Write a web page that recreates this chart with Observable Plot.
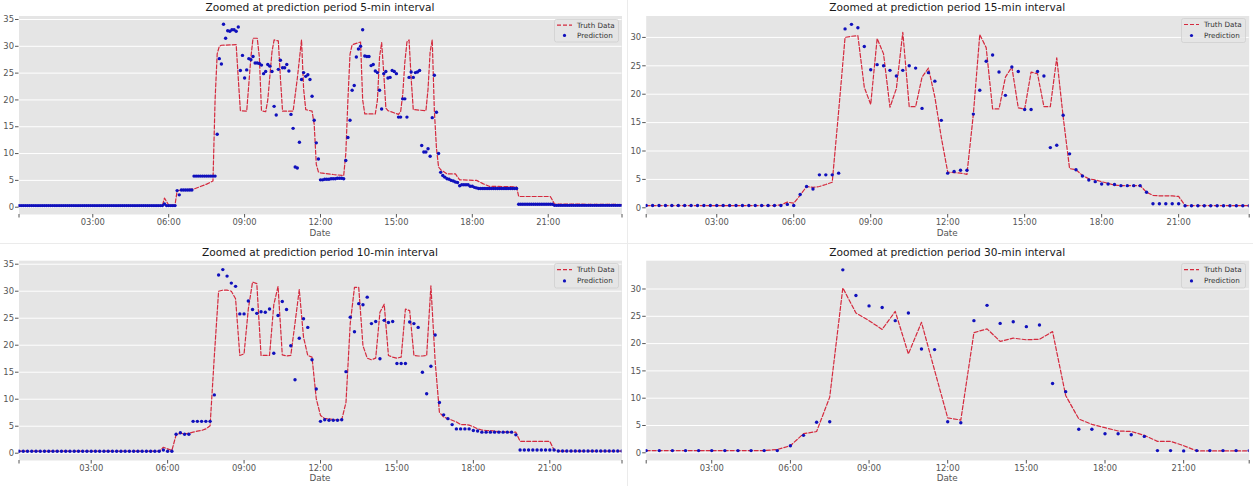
<!DOCTYPE html>
<html><head><meta charset="utf-8">
<script src="https://cdn.jsdelivr.net/npm/d3@7"></script>
<script src="https://cdn.jsdelivr.net/npm/@observablehq/plot@0.6"></script>
<style>
body{margin:0;background:#fff;font-family:"DejaVu Sans",sans-serif;}
#root{position:relative;width:1253px;height:486px;overflow:hidden;background:#fff;}
#root svg{position:absolute;}
.title{position:absolute;font-size:10.6px;color:#1a1a1a;white-space:nowrap;transform:translate(-50%,-50%);line-height:1;}
.xlab{position:absolute;font-size:8.8px;color:#555;white-space:nowrap;transform:translate(-50%,-50%);line-height:1;}
.sep{position:absolute;background:#ebebeb;}
</style></head>
<body><div id="root"></div>
<script>
// ---------- data ----------
const titles = ["Zoomed at prediction period 5-min interval","Zoomed at prediction period 15-min interval","Zoomed at prediction period 10-min interval","Zoomed at prediction period 30-min interval"];
const legendLabels = ["Truth Data","Prediction"];
const xTickHours = [3,6,9,12,15,18,21];
const yTicks35 = [0,5,10,15,20,25,30,35];
const yTicks30 = [0,5,10,15,20,25,30];

// 5-min interval: samples from 00:05 to 23:55
const pred5 = [
 0.3,0.3,0.3,0.3,0.3,0.3,0.3,0.3,0.3,0.3,
 0.3,0.3,0.3,0.3,0.3,0.3,0.3,0.3,0.3,0.3,
 0.3,0.3,0.3,0.3,0.3,0.3,0.3,0.3,0.3,0.3,
 0.3,0.3,0.3,0.3,0.3,0.3,0.3,0.3,0.3,0.3,
 0.3,0.3,0.3,0.3,0.3,0.3,0.3,0.3,0.3,0.3,
 0.3,0.3,0.3,0.3,0.3,0.3,0.3,0.3,0.3,0.3,
 0.3,0.3,0.3,0.3,0.3,0.3,0.3,0.3,0.3,0.6,
 0.3,0.3,0.3,0.3,0.3,3.1,2.3,3.2,3.2,3.2,
 3.2,3.2,3.2,5.8,5.8,5.8,5.8,5.8,5.8,5.8,
 5.8,5.8,5.8,5.8,13.6,27.7,26.7,34.1,31.5,32.9,
 32.8,33.1,33.1,32.8,33.6,25.5,28.3,24.1,25.6,27.7,
 27.5,28.1,26.9,26.9,26.8,26.5,24.9,25.3,26.6,26.3,
 25.3,18.8,17.2,25.7,27.4,26.0,26.0,26.6,25.4,17.3,
 14.7,7.5,7.3,12.1,23.8,25.1,24.4,24.7,23.8,20.7,
 16.2,12.0,9.0,5.1,5.1,5.2,5.2,5.2,5.3,5.3,
 5.3,5.4,5.4,5.4,5.3,8.7,13.0,16.2,21.8,22.7,
 28.0,29.5,30.0,33.1,28.2,28.1,28.1,26.4,26.6,25.4,
 25.1,21.8,18.3,24.9,25.3,24.1,24.2,25.5,25.3,24.9,
 16.8,16.8,20.2,20.2,16.8,24.2,25.2,24.2,25.1,25.2,
 25.5,11.5,10.3,10.3,10.9,9.5,16.7,24.6,17.7,10.0,
 6.5,5.9,5.6,5.3,5.2,5.0,4.9,4.7,4.6,4.0,
 4.2,4.2,4.2,4.2,3.9,3.9,3.7,3.6,3.5,3.5,
 3.5,3.5,3.5,3.5,3.5,3.5,3.5,3.5,3.5,3.5,
 3.5,3.5,3.5,3.5,3.5,3.5,3.5,0.55,0.55,0.55,
 0.55,0.55,0.55,0.55,0.55,0.55,0.55,0.55,0.55,0.55,
 0.55,0.55,0.55,0.55,0.35,0.35,0.35,0.35,0.35,0.35,
 0.35,0.35,0.35,0.35,0.35,0.35,0.35,0.35,0.35,0.35,
 0.35,0.35,0.35,0.35,0.35,0.35,0.35,0.35,0.35,0.35,
 0.35,0.35,0.35,0.35,0.35,0.35,0.35
];
const truth5Time = ["00:05","05:45","05:50","06:00","06:15","06:20","07:00","07:30","07:45","07:50","07:55","08:00","08:05","08:40","08:45","08:50","09:05","09:15","09:20","09:30","09:35","09:40","09:50","09:55","10:05","10:10","10:20","10:25","10:30","10:55","11:05","11:15","11:20","11:25","11:40","11:45","11:50","11:55","12:00","12:30","12:55","13:00","13:05","13:10","13:15","13:35","13:40","13:45","14:10","14:15","14:20","14:25","14:30","14:35","14:40","15:05","15:10","15:15","15:20","15:25","15:30","15:35","15:40","16:10","16:15","16:20","16:25","16:30","16:35","16:40","16:45","17:00","17:20","17:30","18:10","18:25","18:40","19:45","19:50","21:05","21:15","23:55"];
const truth5Value = [0.3,0.3,1.7,0.4,0.4,3.1,3.4,4.3,4.9,20.0,28.6,30.0,30.2,30.3,24.0,18.0,17.9,28.0,31.5,31.5,28.0,18.0,17.8,20.0,29.0,31.2,31.0,24.0,17.9,17.9,24.0,31.2,22.0,18.2,17.9,15.5,8.0,6.6,6.4,6.1,5.9,10.0,20.0,28.5,30.3,30.8,20.0,17.4,17.4,20.0,28.0,30.7,25.0,18.5,18.0,17.3,17.8,21.0,27.0,30.8,31.2,24.0,18.2,18.0,22.0,29.0,31.2,18.0,11.0,7.5,7.0,6.2,6.2,5.1,5.0,4.4,3.9,3.8,2.0,2.0,0.6,0.5];

// 15-min interval: samples from 00:15 to 23:45
const pred15 = [
 0.4,0.4,0.4,0.4,0.4,0.4,0.4,0.4,0.4,0.4,
 0.4,0.4,0.4,0.4,0.4,0.4,0.4,0.4,0.4,0.4,
 0.4,0.4,0.6,0.4,2.35,3.75,3.3,5.8,5.8,5.8,
 6.1,31.5,32.3,31.7,28.4,24.3,25.2,25.0,24.2,23.2,
 24.2,25.0,24.6,17.5,23.8,22.3,15.4,6.1,6.4,6.6,
 6.6,16.5,20.7,25.8,26.9,23.9,19.8,24.8,24.0,17.3,
 17.3,24.0,23.2,10.6,11.0,16.3,9.5,6.7,5.6,4.9,
 4.6,4.2,4.2,4.1,3.9,3.9,3.9,3.9,2.75,0.7,
 0.7,0.7,0.7,0.7,0.35,0.35,0.35,0.35,0.35,0.35,
 0.35,0.35,0.35,0.35,0.35
];
const truth15 = [
 0.4,0.4,0.4,0.4,0.4,0.4,0.4,0.4,0.4,0.4,
 0.4,0.4,0.4,0.4,0.4,0.4,0.4,0.4,0.4,0.4,
 0.4,0.5,1.0,0.8,2.2,3.75,3.6,3.75,4.1,4.5,
 17.0,30.0,30.2,30.3,21.2,18.2,29.8,27.1,17.7,21.0,
 30.9,17.8,17.8,23.0,24.6,19.5,12.4,6.3,6.2,6.1,
 5.9,16.5,30.5,28.2,17.4,17.4,23.0,24.8,17.6,17.4,
 23.9,23.6,17.8,17.8,26.4,16.0,6.9,6.7,5.7,5.1,
 4.9,4.6,4.3,4.0,3.9,3.9,3.9,3.9,2.75,2.2,
 2.1,2.1,2.1,2.0,0.4,0.4,0.4,0.4,0.4,0.4,
 0.4,0.4,0.4,0.4,0.4
];

// 10-min interval: samples from 00:10 to 23:50
const pred10 = [
 0.37,0.37,0.37,0.37,0.37,0.37,0.37,0.37,0.37,0.37,
 0.37,0.37,0.37,0.37,0.37,0.37,0.37,0.37,0.37,0.37,
 0.37,0.37,0.37,0.37,0.37,0.37,0.37,0.37,0.37,0.37,
 0.37,0.37,0.37,0.37,0.6,0.37,0.37,3.5,3.8,3.5,
 3.5,5.9,5.9,5.9,5.9,5.9,10.8,33.0,34.0,32.8,
 31.5,30.9,25.8,25.8,28.2,26.6,25.9,26.2,26.1,26.7,
 18.5,25.5,28.1,26.6,19.9,13.6,21.3,24.9,23.3,17.3,
 11.9,5.9,6.2,6.1,6.1,6.1,6.2,15.1,25.2,22.5,
 27.7,27.5,28.9,24.0,24.4,17.5,24.6,24.2,24.4,16.6,
 16.6,16.6,24.3,24.0,23.3,15.0,11.0,16.1,21.9,9.4,
 7.1,6.4,5.3,4.5,4.5,4.5,4.5,4.2,4.1,3.9,
 3.9,3.9,3.9,3.9,3.9,3.9,3.9,3.4,0.6,0.6,
 0.6,0.6,0.6,0.6,0.6,0.6,0.6,0.4,0.4,0.4,
 0.4,0.4,0.4,0.4,0.4,0.4,0.4,0.4,0.4,0.4,
 0.4,0.4,0.4
];
const truth10 = [
 0.37,0.37,0.37,0.37,0.37,0.37,0.37,0.37,0.37,0.37,
 0.37,0.37,0.37,0.37,0.37,0.37,0.37,0.37,0.37,0.37,
 0.37,0.37,0.37,0.37,0.37,0.37,0.37,0.37,0.37,0.37,
 0.37,0.37,0.37,0.37,1.1,0.8,0.5,3.4,3.7,3.6,
 3.7,3.9,4.1,4.2,4.5,5.1,18.0,30.0,30.2,30.2,
 30.0,28.6,18.1,18.4,26.7,31.7,31.4,18.1,18.1,18.1,
 27.5,30.9,18.2,18.0,18.1,24.1,30.3,21.5,18.1,17.8,
 10.1,7.0,6.4,6.4,6.2,6.2,6.2,9.4,24.0,30.7,
 30.7,19.9,17.6,17.3,17.6,26.1,27.6,18.1,17.8,17.6,
 17.8,26.7,26.4,18.1,18.0,18.0,18.1,31.0,17.0,7.6,
 6.7,6.4,6.1,5.8,5.3,5.3,5.2,4.9,4.5,4.3,
 4.2,4.2,4.1,4.0,4.0,3.9,3.9,3.9,2.2,2.2,
 2.2,2.2,2.2,2.2,2.2,2.2,0.6,0.4,0.4,0.4,
 0.4,0.4,0.4,0.4,0.4,0.4,0.4,0.4,0.4,0.4,
 0.4,0.4,0.4
];

// 30-min interval: samples from 00:30 to 23:30
const pred30 = [
 0.4,0.4,0.4,0.4,0.4,0.4,0.4,0.4,0.4,0.4,
 0.4,1.3,3.2,5.6,5.7,33.5,28.8,26.9,26.6,24.2,
 25.6,19.0,18.9,5.7,5.5,24.2,27.0,23.7,24.0,23.1,
 23.4,12.7,11.2,4.3,4.3,3.5,3.5,3.3,3.0,0.4,
 0.4,0.35,0.4,0.4,0.4,0.4,0.4
];
const truth30 = [
 0.4,0.4,0.4,0.4,0.4,0.4,0.4,0.4,0.4,0.4,
 0.6,1.3,3.5,3.9,10.2,30.2,25.6,24.2,22.6,25.9,
 18.1,23.9,15.1,6.4,6.0,22.0,22.7,20.4,21.0,20.7,
 20.8,22.2,10.5,6.2,5.2,4.6,4.0,3.9,3.2,2.1,
 2.1,1.3,0.35,0.35,0.35,0.35,0.35
];

// ---------- drawing ----------
const RED = "#d42a3e";
const BLUE = "#1010bc";
const root = document.getElementById("root");

const hm = s => { const [h, m] = s.split(":").map(Number); return h + m / 60; };
const fmt = d => (Math.abs(d - Math.round(d)) < 1e-6 && Math.round(d) % 3 === 0 && d > 0 && d < 24)
  ? String(Math.round(d)).padStart(2, "0") + ":00" : "";

function series(values, stepMin) {
  return values.map((v, i) => ({t: (i + 1) * stepMin / 60, v}));
}

function panel(o) {
  const pred = series(o.pred, o.step);
  const truth = o.truthT
    ? o.truthT.map((t, i) => ({t: hm(t), v: o.truthV[i]}))
    : series(o.truthV, o.step);
  const x0 = pred[0].t, x1 = pred[pred.length - 1].t;
  const xt = [x0, ...xTickHours, x1];
  const svg = Plot.plot({
    width: 626, height: o.h,
    marginLeft: o.ml, marginRight: o.mr, marginTop: o.mt, marginBottom: o.mb,
    style: {fontFamily: "DejaVu Sans", fontSize: "8.4px", color: "#555", background: "transparent", overflow: "visible"},
    x: {domain: [x0, x1]},
    y: {domain: o.ydom},
    marks: [
      Plot.frame({fill: "#e5e5e5", stroke: "none"}),
      Plot.gridY(o.yt, {stroke: "#ffffff", strokeOpacity: 1, strokeWidth: 1}),
      Plot.axisY(o.yt, {tickSize: 3.5, tickPadding: 1.5, label: null, tickFormat: d => String(d), fontSize: 8.4}),
      Plot.axisX(xt, {tickSize: 3.5, tickPadding: 1.5, label: null, tickFormat: fmt, fontSize: 8.4}),
      Plot.line(truth, {x: "t", y: "v", stroke: RED, strokeWidth: 1.2, strokeDasharray: "4,2", clip: true}),
      Plot.dot(pred, {x: "t", y: "v", r: 1.7, fill: BLUE, stroke: "none", clip: true})
    ]
  });
  svg.style.left = o.left + "px";
  svg.style.top = o.top + "px";
  root.appendChild(svg);

  const cx = o.left + o.ml + (626 - o.ml - o.mr) / 2;
  const t = document.createElement("div");
  t.className = "title"; t.textContent = o.title;
  t.style.left = cx + "px"; t.style.top = o.titleY + "px";
  root.appendChild(t);
  const d = document.createElement("div");
  d.className = "xlab"; d.textContent = "Date";
  d.style.left = cx + "px"; d.style.top = o.dateY + "px";
  root.appendChild(d);

  const lg = document.createElementNS("http://www.w3.org/2000/svg", "svg");
  lg.setAttribute("width", 66); lg.setAttribute("height", 26);
  lg.style.left = o.lgX + "px"; lg.style.top = o.lgY + "px";
  lg.innerHTML = `<rect x="0.5" y="0.5" width="64" height="${o.lgH}" rx="2" fill="#e5e5e5" fill-opacity="0.8" stroke="#cfcfcf" stroke-width="0.8"/>
    <line x1="3" x2="18" y1="${o.lgH*0.27}" y2="${o.lgH*0.27}" stroke="${RED}" stroke-width="1.2" stroke-dasharray="4,2"/>
    <text x="23" y="${o.lgH*0.27}" dy="0.35em" font-family="DejaVu Sans" font-size="7.2" fill="#333">${legendLabels[0]}</text>
    <circle cx="10.5" cy="${o.lgH*0.73}" r="1.6" fill="${BLUE}"/>
    <text x="23" y="${o.lgH*0.73}" dy="0.35em" font-family="DejaVu Sans" font-size="7.2" fill="#333">${legendLabels[1]}</text>`;
  root.appendChild(lg);
}

// separators
[["626.5px","0px","1px","486px"],["0px","243px","1253px","1px"]].forEach(([l,t,w,h]) => {
  const s = document.createElement("div"); s.className = "sep";
  s.style.left = l; s.style.top = t; s.style.width = w; s.style.height = h; root.appendChild(s);
});

panel({pred: pred5, step: 5, truthT: truth5Time, truthV: truth5Value, left: 0, top: 0, h: 242,
  ml: 18.5, mr: 4.5, mt: 15.5, mb: 28, ydom: [-1.36, 35.65], yt: yTicks35,
  title: titles[0], titleY: 7, dateY: 232.5, lgX: 553.5, lgY: 18.8, lgH: 22.5});
panel({pred: pred15, step: 15, truthV: truth15, left: 627, top: 0, h: 242,
  ml: 18.7, mr: 4.3, mt: 15.5, mb: 28, ydom: [-1.18, 33.77], yt: yTicks30,
  title: titles[1], titleY: 7, dateY: 232.5, lgX: 1181, lgY: 18.2, lgH: 24});
panel({pred: pred10, step: 10, truthV: truth10, left: 0, top: 244, h: 242,
  ml: 18.5, mr: 4.5, mt: 16.2, mb: 26, ydom: [-1.35, 35.65], yt: yTicks35,
  title: titles[2], titleY: 252, dateY: 478, lgX: 553.5, lgY: 263, lgH: 24.5});
panel({pred: pred30, step: 30, truthV: truth30, left: 627, top: 244, h: 242,
  ml: 18.7, mr: 4.3, mt: 16.2, mb: 26, ydom: [-1.41, 35.18], yt: yTicks30,
  title: titles[3], titleY: 252, dateY: 478, lgX: 1181, lgY: 263, lgH: 24.5});
</script></body></html>
